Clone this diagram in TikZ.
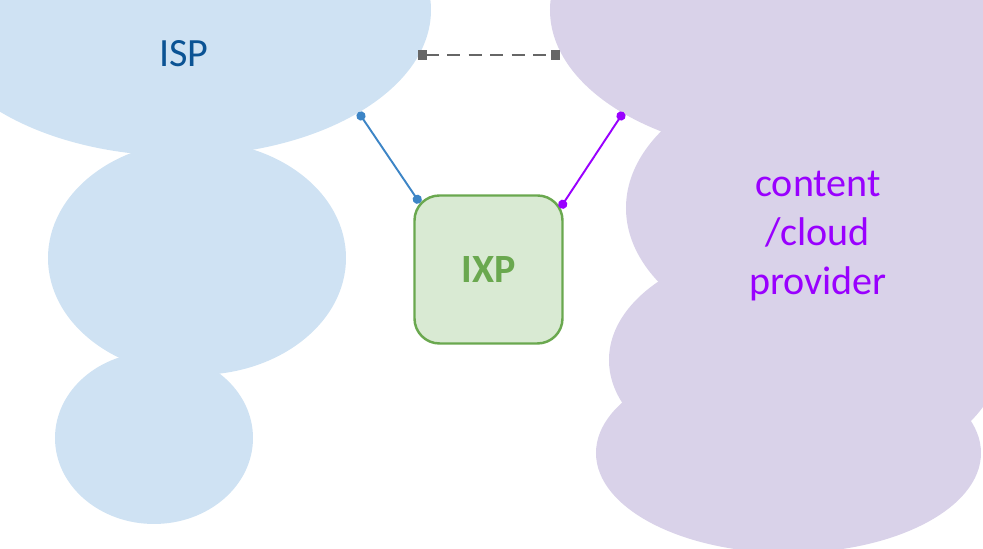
\documentclass[tikz,border=0pt]{standalone}
\usepackage{fontspec}
\setmainfont{Carlito}
\usetikzlibrary{arrows.meta}
\definecolor{ispfill}{HTML}{CFE2F3}
\definecolor{ispblue}{HTML}{0B5394}
\definecolor{ispline}{HTML}{3D85C6}
\definecolor{cdnfill}{HTML}{D9D2E9}
\definecolor{cdnpurple}{HTML}{9900FF}
\definecolor{ixpfill}{HTML}{D9EAD3}
\definecolor{ixpgreen}{HTML}{6AA84F}
\definecolor{peergray}{HTML}{666666}
\begin{document}
\begin{tikzpicture}[
		big/.style={font=\fontsize{11.4}{13.9}\selectfont},
		link/.style={line width=0.55pt, {Circle[length=2.6pt]}-{Circle[length=2.6pt]}, shorten <=-1.3pt, shorten >=-1.3pt}
	]
		\useasboundingbox (0,0) rectangle (9.83,5.49);
		\begin{scope}
			\clip (0,0) rectangle (9.83,5.49);
			\foreach \x/\y/\rx/\ry in {1.80/5.39/2.51/1.46, 1.97/2.91/1.49/1.17, 1.54/1.11/0.99/0.86}
				\fill[ispfill] (\x,\y) ellipse [x radius=\rx, y radius=\ry];
			\foreach \x/\y/\rx/\ry in {8.00/5.39/2.50/1.46, 8.76/3.41/2.50/1.50, 8.04/1.89/1.95/1.18, 7.885/0.96/1.925/1.00}
				\fill[cdnfill] (\x,\y) ellipse [x radius=\rx, y radius=\ry];
		\end{scope}
		
		\node[big, text=ispblue, anchor=base] (isp) at (1.84,4.82) {ISP};
		\node[big, text=cdnpurple, align=center] (cdn) at (8.18,3.13) {content\\/cloud\\provider};
		\node[draw=ixpgreen, fill=ixpfill, line width=0.7pt, rounded corners=0.25cm, minimum size=1.48cm, font=\fontsize{11.4}{13.9}\selectfont\bfseries, text=ixpgreen] (ixp) at (4.885,2.795) {IXP};
		
		\coordinate (ispport) at (3.61,4.33);
		\coordinate (cdnport) at (6.21,4.33);
		\draw[link, ispline] (ispport) -- ([shift={(0.04,-0.05)}]ixp.north west);
		\draw[link, cdnpurple] (cdnport) -- ([shift={(-0.01,-0.10)}]ixp.north east);
		
		\coordinate (isppeer) at (4.18,4.94);
		\coordinate (cdnpeer) at (5.60,4.94);
		\draw[peergray, line width=0.8pt, dash pattern=on 0.13cm off 0.085cm, {Square[length=2.6pt]}-{Square[length=2.6pt]}] (isppeer) -- (cdnpeer);
	\end{tikzpicture}
\end{document}
